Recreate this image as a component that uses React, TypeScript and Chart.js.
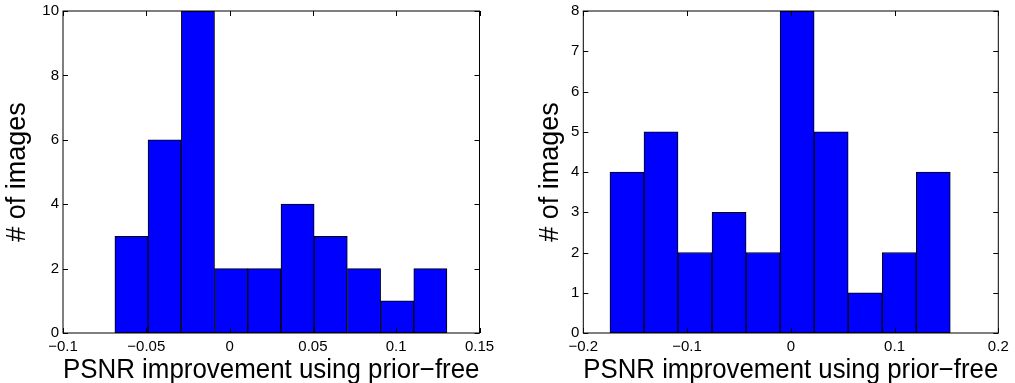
import React, { useEffect, useRef } from 'react';
import { Chart, registerables } from 'chart.js';

Chart.register(...registerables);

// ---- Data ----
const leftBinCenters = [-0.0589, -0.0390, -0.0190, 0.0009, 0.0208, 0.0408, 0.0607, 0.0807, 0.1006, 0.1205];
const leftCounts = [3, 6, 10, 2, 2, 4, 3, 2, 1, 2];
const leftXTicks = [-0.1, -0.05, 0, 0.05, 0.1, 0.15];
const leftXTickLabels = ['−0.1', '−0.05', '0', '0.05', '0.1', '0.15'];
const leftYTicks = [0, 2, 4, 6, 8, 10];
const leftYTickLabels = ['0', '2', '4', '6', '8', '10'];

const rightBinCenters = [-0.1579, -0.1251, -0.0923, -0.0595, -0.0267, 0.0061, 0.0389, 0.0717, 0.1045, 0.1373];
const rightCounts = [4, 5, 2, 3, 2, 8, 5, 1, 2, 4];
const rightXTicks = [-0.2, -0.1, 0, 0.1, 0.2];
const rightXTickLabels = ['−0.2', '−0.1', '0', '0.1', '0.2'];
const rightYTicks = [0, 1, 2, 3, 4, 5, 6, 7, 8];
const rightYTickLabels = ['0', '1', '2', '3', '4', '5', '6', '7', '8'];

const xTitle = 'PSNR improvement using prior−free';
const yTitle = '# of images';

const FONT = '"Liberation Sans", Arial, Helvetica, sans-serif';

const boxPlugin = {
  id: 'matlabBox',
  afterDatasetsDraw(chart: any) {
    const { ctx, chartArea: a, scales } = chart;
    const xt: number[] = chart.options.plugins.matlabBox.xTicks;
    const yt: number[] = chart.options.plugins.matlabBox.yTicks;
    ctx.save();
    ctx.strokeStyle = '#000';
    ctx.lineWidth = 1;
    ctx.strokeRect(a.left, a.top, a.right - a.left, a.bottom - a.top);
    const len = 5;
    ctx.beginPath();
    xt.forEach((v) => {
      const px = Math.round(scales.x.getPixelForValue(v)) + 0.5;
      ctx.moveTo(px, a.bottom);
      ctx.lineTo(px, a.bottom - len);
      ctx.moveTo(px, a.top);
      ctx.lineTo(px, a.top + len);
    });
    yt.forEach((v) => {
      const py = Math.round(scales.y.getPixelForValue(v)) + 0.5;
      ctx.moveTo(a.left, py);
      ctx.lineTo(a.left + len, py);
      ctx.moveTo(a.right, py);
      ctx.lineTo(a.right - len, py);
    });
    ctx.stroke();
    ctx.restore();
  },
};

interface HistProps {
  left: number;
  width: number;
  centers: number[];
  counts: number[];
  xTicks: number[];
  xTickLabels: string[];
  yTicks: number[];
  yTickLabels: string[];
  xMin: number;
  xMax: number;
  yMax: number;
  padLeft: number;
  padRight: number;
  yAxisWidth: number;
  yTitlePad: number;
}

function Histogram(p: HistProps) {
  const ref = useRef<HTMLCanvasElement>(null);
  useEffect(() => {
    if (!ref.current) return;
    const chart = new Chart(ref.current, {
      type: 'bar',
      data: {
        datasets: [
          {
            data: p.centers.map((x, i) => ({ x, y: p.counts[i] })),
            backgroundColor: '#0000ff',
            borderColor: '#000000',
            borderWidth: 1,
            borderSkipped: false,
            barPercentage: 1,
            categoryPercentage: 1,
          } as any,
        ],
      },
      plugins: [boxPlugin],
      options: {
        animation: false,
        responsive: false,
        events: [],
        layout: { padding: { top: 11, left: p.padLeft, right: p.padRight, bottom: 0 } },
        plugins: {
          legend: { display: false },
          tooltip: { enabled: false },
          matlabBox: { xTicks: p.xTicks, yTicks: p.yTicks },
        } as any,
        scales: {
          x: {
            type: 'linear',
            min: p.xMin,
            max: p.xMax,
            offset: false,
            grid: { display: false, drawTicks: false },
            border: { display: false },
            afterBuildTicks: (s: any) => {
              s.ticks = p.xTicks.map((v) => ({ value: v }));
            },
            afterFit: (s: any) => {
              s.height = 50;
              s.paddingLeft = 0;
              s.paddingRight = 0;
            },
            ticks: {
              color: '#000',
              font: { family: FONT, size: 15 },
              padding: 5,
              maxRotation: 0,
              autoSkip: false,
              callback: (_v: any, i: number) => p.xTickLabels[i],
            },
            title: {
              display: true,
              text: xTitle,
              color: '#000',
              font: { family: FONT, size: 27, lineHeight: 1 },
              padding: { top: 0, bottom: -1 },
            },
          },
          y: {
            type: 'linear',
            min: 0,
            max: p.yMax,
            grid: { display: false, drawTicks: false },
            border: { display: false },
            afterBuildTicks: (s: any) => {
              s.ticks = p.yTicks.map((v) => ({ value: v }));
            },
            afterFit: (s: any) => {
              s.width = p.yAxisWidth;
              s.paddingTop = 0;
              s.paddingBottom = 0;
            },
            ticks: {
              color: '#000',
              font: { family: FONT, size: 15 },
              padding: 4,
              autoSkip: false,
              callback: (_v: any, i: number) => p.yTickLabels[i],
            },
            title: {
              display: true,
              text: yTitle,
              color: '#000',
              font: { family: FONT, size: 27, lineHeight: 1 },
              padding: { top: p.yTitlePad, bottom: 0 },
            },
          },
        },
      } as any,
    });
    return () => chart.destroy();
  }, []);
  return (
    <canvas
      ref={ref}
      width={p.width}
      height={383}
      style={{ position: 'absolute', left: p.left, top: 0, width: p.width, height: 383 }}
    />
  );
}

export default function App() {
  return (
    <div style={{ position: 'absolute', left: 0, top: 0, width: 1015, height: 383, background: '#fff', overflow: 'hidden' }}>
      <Histogram
        left={0}
        width={500}
        centers={leftBinCenters}
        counts={leftCounts}
        xTicks={leftXTicks}
        xTickLabels={leftXTickLabels}
        yTicks={leftYTicks}
        yTickLabels={leftYTickLabels}
        xMin={-0.1}
        xMax={0.15}
        yMax={10}
        padLeft={0}
        padRight={20.5}
        yAxisWidth={63}
        yTitlePad={4}
      />
      <Histogram
        left={500}
        width={515}
        centers={rightBinCenters}
        counts={rightCounts}
        xTicks={rightXTicks}
        xTickLabels={rightXTickLabels}
        yTicks={rightYTicks}
        yTickLabels={rightYTickLabels}
        xMin={-0.2}
        xMax={0.2}
        yMax={8}
        padLeft={32}
        padRight={16.7}
        yAxisWidth={51.3}
        yTitlePad={4.6}
      />
    </div>
  );
}
